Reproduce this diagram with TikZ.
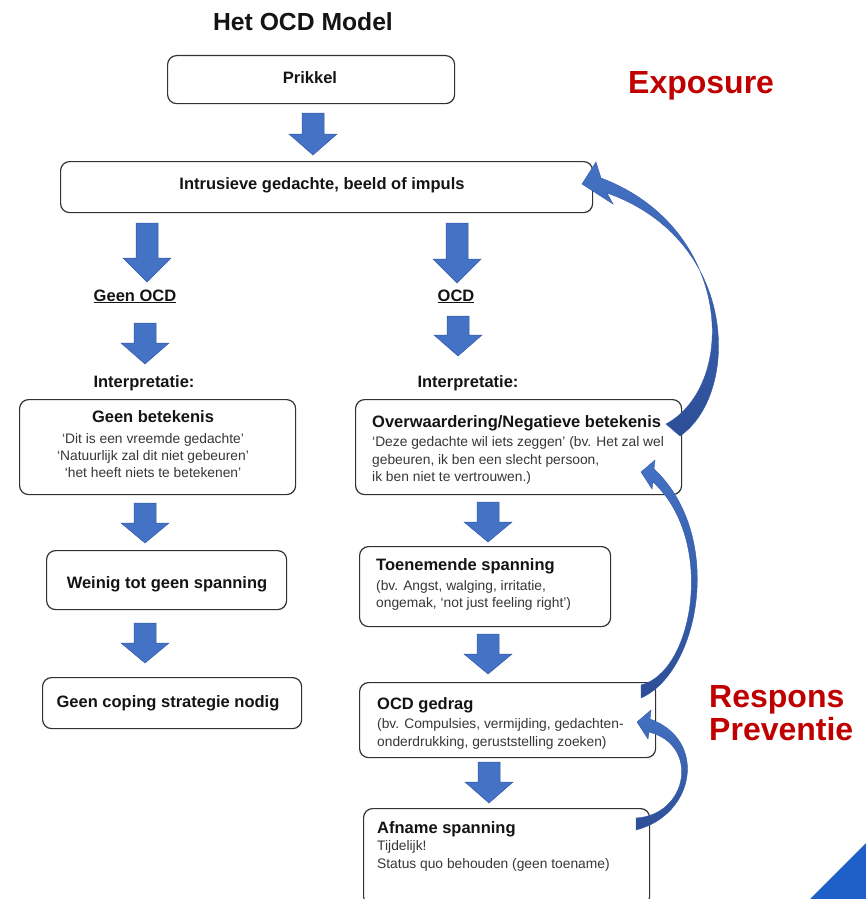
\documentclass[tikz,border=0pt]{standalone}
\usepackage{fontspec}
\setmainfont{Liberation Sans}
\definecolor{arrblue}{RGB}{68,114,196}
\definecolor{arredge}{RGB}{52,90,170}
\definecolor{arrdark}{RGB}{45,78,150}
\definecolor{exred}{RGB}{192,0,0}
\definecolor{boxline}{RGB}{50,50,50}
\definecolor{txt}{RGB}{20,20,20}
\definecolor{cornerblue}{RGB}{30,96,200}
\newcommand\blkarr[4]{%
  \draw[blkstyle] ({#1-11},{#2}) -- ({#1+11},{#2}) -- ({#1+11},{#2+#3}) -- ({#1+24},{#2+#3})
   -- ({#1},{#2+#3+#4}) -- ({#1-24},{#2+#3}) -- ({#1-11},{#2+#3}) -- cycle;}
\tikzset{
  box/.style={draw=boxline, line width=1.2pt, rounded corners=9pt, fill=white, inner sep=0pt},
  bf/.style={font=\fontsize{16.5}{19}\selectfont\bfseries, text=txt, inner sep=0pt},
  sm/.style={font=\fontsize{13.8}{17}\selectfont, text=txt!85!white, inner sep=0pt},
  big/.style={font=\fontsize{32}{36}\selectfont\bfseries, text=exred, inner sep=0pt},
  blkstyle/.style={fill=arrblue, draw=arredge, line width=0.5pt},
  curvarr/.style={top color=arrblue, bottom color=arrdark, draw=arredge, line width=0.4pt},
}
\begin{document}
\begin{tikzpicture}[x=1pt,y=-1pt]
\useasboundingbox (0,0) rectangle (866,899);
\clip (0,0) rectangle (866,899);
\fill[white] (0,0) rectangle (866,899);

% title
\node[font=\fontsize{24.7}{28}\selectfont\bfseries, text=txt, inner sep=0pt, anchor=base] (title) at (303,31) {Het OCD Model};

% boxes
\node[box, anchor=north west, minimum width=287, minimum height=48] (prikkel) at (167,55) {};
\node[box, anchor=north west, minimum width=532, minimum height=51] (intr) at (60,161) {};
\node[box, anchor=north west, minimum width=276, minimum height=95] (gb) at (19,399) {};
\node[box, anchor=north west, minimum width=326, minimum height=95] (ow) at (355,399) {};
\node[box, anchor=north west, minimum width=240, minimum height=59] (wn) at (46,550) {};
\node[box, anchor=north west, minimum width=259, minimum height=51] (gc) at (42,677) {};
\node[box, anchor=north west, minimum width=251, minimum height=80] (tn) at (359,546) {};
\node[box, anchor=north west, minimum width=296, minimum height=75] (og) at (359,682) {};
\node[box, anchor=north west, minimum width=286, minimum height=97] (af) at (363,808) {};

% box texts
\node[bf] (prikkelT) at (310,78) {Prikkel};
\node[bf] (intrT) at (322,185) {Intrusieve gedachte, beeld of impuls};

\node[bf, anchor=base] (geenocd) at (135,301) {\underline{Geen OCD}};
\node[bf, anchor=base] (ocd) at (456,301) {\underline{OCD}};
\node[bf, anchor=base] (interpL) at (144,387) {Interpretatie:};
\node[bf, anchor=base] (interpR) at (468,387) {Interpretatie:};

\node[bf, anchor=base] (gb0) at (153,422) {Geen betekenis};
\node[sm, anchor=base] (gb1) at (153,443) {‘Dit is een vreemde gedachte’};
\node[sm, anchor=base] (gb2) at (153,460) {‘Natuurlijk zal dit niet gebeuren’};
\node[sm, anchor=base] (gb3) at (153,477) {‘het heeft niets te betekenen’};

\node[bf, anchor=base west] (ow0) at (372,427) {Overwaardering/Negatieve betekenis};
\node[sm, anchor=base west] (ow1) at (372,446) {‘Deze gedachte wil iets zeggen’ (bv. Het zal wel};
\node[sm, anchor=base west] (ow2) at (372,464) {gebeuren, ik ben een slecht persoon,};
\node[sm, anchor=base west] (ow3) at (372,481) {ik ben niet te vertrouwen.)};

\node[bf, anchor=base] (wnT) at (167,588) {Weinig tot geen spanning};
\node[bf, anchor=base] (gcT) at (168,707) {Geen coping strategie nodig};

\node[bf, anchor=base west] (tn0) at (376,570) {Toenemende spanning};
\node[sm, anchor=base west] (tn1) at (376,590) {(bv. Angst, walging, irritatie,};
\node[sm, anchor=base west] (tn2) at (376,607) {ongemak, ‘not just feeling right’)};

\node[bf, anchor=base west] (og0) at (377,709) {OCD gedrag};
\node[sm, anchor=base west] (og1) at (377,728) {(bv. Compulsies, vermijding, gedachten-};
\node[sm, anchor=base west] (og2) at (377,746) {onderdrukking, geruststelling zoeken)};

\node[bf, anchor=base west] (af0) at (377,833) {Afname spanning};
\node[sm, anchor=base west] (af1) at (377,850) {Tijdelijk!};
\node[sm, anchor=base west] (af2) at (377,868) {Status quo behouden (geen toename)};

% red labels
\node[big, anchor=base west] (expo) at (628,93) {Exposure};
\node[big, anchor=base west] (resp) at (709,707) {Respons};
\node[big, anchor=base west] (prev) at (709,740) {Preventie};

% straight block arrows
\blkarr{313}{113}{21}{21}
\blkarr{147}{223}{35}{24}
\blkarr{457}{223}{36}{24}
\blkarr{145}{323}{20}{21}
\blkarr{458}{316}{19}{21}
\blkarr{145}{503}{20}{20}
\blkarr{145}{623}{20}{20}
\blkarr{488}{502}{20}{20}
\blkarr{488}{634}{20}{20}
\blkarr{489}{762}{20}{21}

% curved arrows
\draw[curvarr] (680,436) .. controls (740,395) and (740,240) .. (607,193)
  -- (613,204) -- (582,184) -- (596,162) -- (601,178)
  .. controls (733,228) and (738,385) .. (666,424) -- cycle;
\draw[curvarr] (641,698) .. controls (700,672) and (725,535) .. (654,469)
  -- (655,460) -- (641,472) -- (652,489) -- (653,482)
  .. controls (716,540) and (694,672) .. (641,685) -- cycle;
\draw[curvarr] (636,830) .. controls (695,815) and (708,740) .. (650,719)
  -- (651,710) -- (637,722) -- (648,739) -- (649,732)
  .. controls (700,745) and (688,815) .. (636,818) -- cycle;

% corner triangle
\fill[cornerblue] (810,899) -- (866,843) -- (866,899) -- cycle;
\end{tikzpicture}
\end{document}
